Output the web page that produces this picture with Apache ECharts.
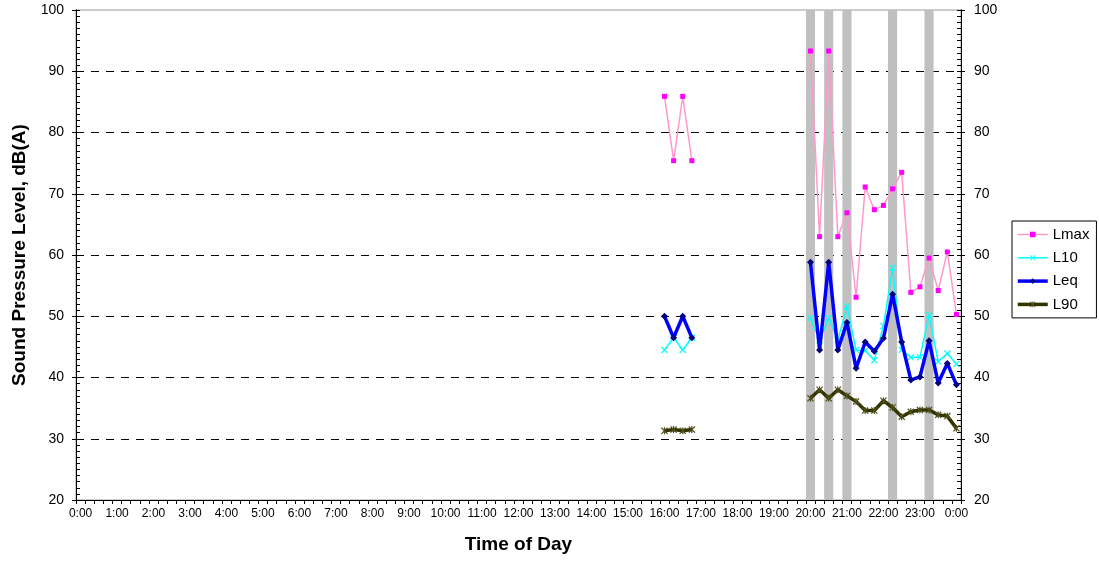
<!DOCTYPE html>
<html>
<head>
<meta charset="utf-8">
<script src="https://cdn.jsdelivr.net/npm/echarts@6/dist/echarts.min.js"></script>
<style>
html,body{margin:0;padding:0;background:#fff;}
#chart{width:1099px;height:562px;}
</style>
</head>
<body>
<div id="chart"></div>
<script>
// x categories: every 15 minutes, 0:00 .. 24:00 (24:00 shown as 0:00)
const timeCategories = [
 "0:00","0:15","0:30","0:45","1:00","1:15","1:30","1:45","2:00","2:15","2:30","2:45",
 "3:00","3:15","3:30","3:45","4:00","4:15","4:30","4:45","5:00","5:15","5:30","5:45",
 "6:00","6:15","6:30","6:45","7:00","7:15","7:30","7:45","8:00","8:15","8:30","8:45",
 "9:00","9:15","9:30","9:45","10:00","10:15","10:30","10:45","11:00","11:15","11:30","11:45",
 "12:00","12:15","12:30","12:45","13:00","13:15","13:30","13:45","14:00","14:15","14:30","14:45",
 "15:00","15:15","15:30","15:45","16:00","16:15","16:30","16:45","17:00","17:15","17:30","17:45",
 "18:00","18:15","18:30","18:45","19:00","19:15","19:30","19:45","20:00","20:15","20:30","20:45",
 "21:00","21:15","21:30","21:45","22:00","22:15","22:30","22:45","23:00","23:15","23:30","23:45",
 "24:00"
];
const afternoonTimes = ["16:00","16:15","16:30","16:45"];
const eveningTimes = ["20:00","20:15","20:30","20:45","21:00","21:15","21:30","21:45",
 "22:00","22:15","22:30","22:45","23:00","23:15","23:30","23:45","24:00"];
const gapTime = "17:00";

const lmaxAfternoon = [85.9, 75.4, 85.9, 75.4];
const lmaxEvening   = [93.3, 63.0, 93.3, 63.0, 66.9, 53.1, 71.1, 67.4, 68.1, 70.8, 73.5, 53.9, 54.8, 59.5, 54.2, 60.5, 50.3];
const l10Afternoon  = [44.5, 46.5, 44.5, 46.5];
const l10Evening    = [49.7, 46.1, 49.7, 46.1, 51.6, 44.5, 44.4, 42.8, 48.4, 57.9, 44.5, 43.3, 43.3, 50.2, 42.6, 43.9, 42.2];
const leqAfternoon  = [50.0, 46.5, 50.0, 46.5];
const leqEvening    = [58.8, 44.5, 58.8, 44.5, 49.0, 41.5, 45.8, 44.3, 46.4, 53.6, 45.8, 39.6, 40.1, 46.0, 39.1, 42.3, 38.8];
const l90Afternoon  = [31.3, 31.5, 31.3, 31.5];
const l90Evening    = [36.6, 38.0, 36.6, 38.0, 37.0, 36.1, 34.6, 34.6, 36.2, 35.1, 33.6, 34.4, 34.7, 34.7, 33.9, 33.7, 31.7];

const shadedTimes = ["20:00","20:30","21:00","22:15","23:15"];
const shadeValue = 100;

const yMin = 20, yMax = 100, yStep = 10;

function build(aft, eve) {
  return afternoonTimes.map((t, i) => [t, aft[i]])
    .concat([[gapTime, '-']])
    .concat(eveningTimes.map((t, i) => [t, eve[i]]));
}

const FONT = '"Liberation Sans", Arial, sans-serif';
const X_SYMBOL = 'path://M0,1.2L1.2,0L5,3.8L8.8,0L10,1.2L6.2,5L10,8.8L8.8,10L5,6.2L1.2,10L0,8.8L3.8,5Z';
const STAR_SYMBOL = 'path://M0,1.2L1.2,0L5,3.8L8.8,0L10,1.2L6.2,5L10,8.8L8.8,10L5,6.2L1.2,10L0,8.8L3.8,5Z M4.2,0L5.8,0L5.8,10L4.2,10Z';

const chart = echarts.init(document.getElementById('chart'), null, {renderer: 'canvas'});

function yAx(pos, opts) {
  return Object.assign({
    type: 'value', position: pos, min: yMin, max: yMax, interval: yStep,
    axisLine: {show: true, lineStyle: {color: '#000', width: 1}},
    axisTick: {show: true, length: 4, lineStyle: {color: '#000'}},
    axisLabel: {show: false},
    splitLine: {show: false},
    minorTick: {show: false}
  }, opts);
}

const option = {
  animation: false,
  backgroundColor: '#fff',
  textStyle: {fontFamily: FONT},
  grid: {left: 76, right: 138, top: 10, bottom: 62, show: true, borderColor: '#999', borderWidth: 1, backgroundColor: 'transparent'},
  legend: {
    data: ['Lmax', 'L10', 'Leq', 'L90'],
    orient: 'vertical', left: 1012, top: 221,
    itemWidth: 30, itemHeight: 7, itemGap: 8.3,
    padding: [6, 7, 6, 4],
    borderColor: '#000', borderWidth: 1, backgroundColor: '#fff',
    lineStyle: {width: 'inherit'},
    textStyle: {fontSize: 15, color: '#000', fontFamily: FONT}
  },
  xAxis: {
    type: 'category', data: timeCategories, boundaryGap: true,
    axisLine: {show: true, lineStyle: {color: '#000'}},
    axisTick: {show: true, interval: 0, length: 4, lineStyle: {color: '#000'}},
    axisLabel: {interval: 3, fontSize: 12, color: '#000', margin: 8, fontFamily: FONT,
      formatter: v => v === '24:00' ? '0:00' : v},
    splitLine: {show: false},
    name: 'Time of Day', nameLocation: 'middle', nameGap: 35,
    nameTextStyle: {fontWeight: 'bold', fontSize: 19, color: '#000', fontFamily: FONT}
  },
  yAxis: [
    yAx('left', {
      axisLabel: {show: true, fontSize: 14, color: '#000', margin: 12, fontFamily: FONT},
      splitLine: {show: true, showMinLine: false, showMaxLine: false,
        lineStyle: {color: '#000', type: [8, 7], width: 1}},
      name: 'Sound Pressure Level, dB(A)', nameLocation: 'middle', nameRotate: 90, nameGap: 47,
      nameTextStyle: {fontWeight: 'bold', fontSize: 19, color: '#000', fontFamily: FONT}
    }),
    yAx('left', {axisTick: {show: true, inside: true, length: 4, lineStyle: {color: '#000'}},
      minorTick: {show: true, splitNumber: 10, length: 4, lineStyle: {color: '#000'}}}),
    yAx('right', {
      axisLabel: {show: true, fontSize: 14, color: '#000', margin: 13, fontFamily: FONT}
    }),
    yAx('right', {axisTick: {show: true, inside: true, length: 4, lineStyle: {color: '#000'}},
      minorTick: {show: true, splitNumber: 10, length: 4, lineStyle: {color: '#000'}}})
  ],
  series: [
    {
      type: 'bar', name: 'shade', data: shadedTimes.map(t => [t, shadeValue]),
      barWidth: '100%', itemStyle: {color: '#c0c0c0'}, silent: true, z: 1
    },
    {
      type: 'line', name: 'Lmax', data: build(lmaxAfternoon, lmaxEvening),
      symbol: 'rect', symbolSize: 5, connectNulls: false, showAllSymbol: true,
      lineStyle: {color: '#ff99cc', width: 1.5},
      itemStyle: {color: '#ff00ff'}, z: 3
    },
    {
      type: 'line', name: 'L10', data: build(l10Afternoon, l10Evening),
      symbol: X_SYMBOL, symbolSize: 7, connectNulls: false, showAllSymbol: true,
      lineStyle: {color: '#00ffff', width: 1.5},
      itemStyle: {color: '#00ffff'}, z: 4
    },
    {
      type: 'line', name: 'Leq', data: build(leqAfternoon, leqEvening),
      symbol: 'diamond', symbolSize: 7, connectNulls: false, showAllSymbol: true,
      lineStyle: {color: '#0000ff', width: 3.5},
      itemStyle: {color: '#000080'}, z: 5
    },
    {
      type: 'line', name: 'L90', data: build(l90Afternoon, l90Evening),
      symbol: STAR_SYMBOL, symbolSize: 7, connectNulls: false, showAllSymbol: true,
      lineStyle: {color: '#333300', width: 3.5},
      itemStyle: {color: '#4d4d1a'}, z: 6
    }
  ]
};
chart.setOption(option);
</script>
</body>
</html>
